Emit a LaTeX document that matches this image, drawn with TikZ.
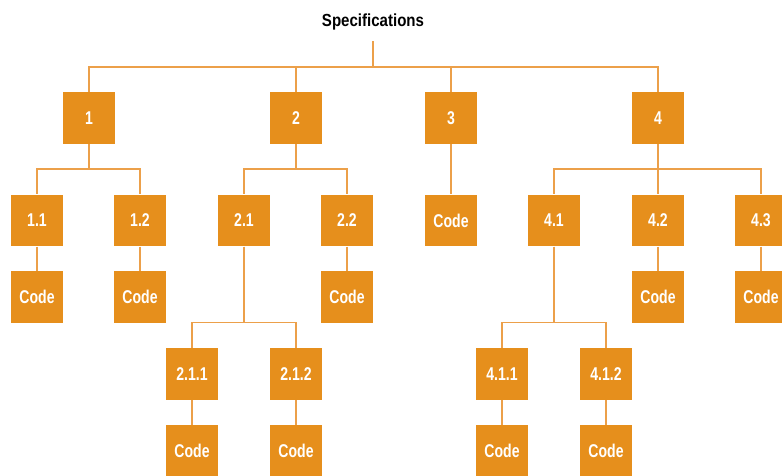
\documentclass[tikz,border=0pt]{standalone}
\usepackage{fontspec}
\newfontfamily\headfont{Liberation Sans}[FakeStretch=0.86]
\newfontfamily\boxfont{Liberation Sans}[FakeStretch=0.76]
\definecolor{boxorange}{HTML}{E68F1C}
\definecolor{lineorange}{HTML}{ECA04A}
\tikzset{
  module/.style={draw=none, fill=boxorange, minimum size=51.7pt, inner sep=0pt,
    text=white, font=\boxfont\bfseries\fontsize{18.5}{21}\selectfont},
  link/.style={draw=lineorange, line width=1.5pt},
  title/.style={font=\headfont\bfseries\fontsize{17.5}{20}\selectfont, inner sep=0pt}
}
\begin{document}
\begin{tikzpicture}[x=1pt, y=-1pt]
\useasboundingbox (0,0) rectangle (782,475);

% heading
\node[title, anchor=base] (spec) at (373,26.7) {Specifications};
\coordinate (root) at ([yshift=-14.3pt]spec.base);

% first level
\node[module] (n1) at (89,118) {1};
\node[module] (n2) at (296,118) {2};
\node[module] (n3) at (451,118) {3};
\node[module] (n4) at (658,118) {4};

% second level
\node[module] (n11) at (37,220.5) {1.1};
\node[module] (n12) at (140,220.5) {1.2};
\node[module] (n21) at (244,220.5) {2.1};
\node[module] (n22) at (347,220.5) {2.2};
\node[module] (c3)  at (451,220.5) {Code};
\node[module] (n41) at (554,220.5) {4.1};
\node[module] (n42) at (658,220.5) {4.2};
\node[module] (n43) at (761,220.5) {4.3};

% code under second level
\node[module] (c11) at (37,297) {Code};
\node[module] (c12) at (140,297) {Code};
\node[module] (c22) at (347,297) {Code};
\node[module] (c42) at (658,297) {Code};
\node[module] (c43) at (761,297) {Code};

% third level
\node[module] (n211) at (192,374) {2.1.1};
\node[module] (n212) at (296,374) {2.1.2};
\node[module] (n411) at (502,374) {4.1.1};
\node[module] (n412) at (606,374) {4.1.2};

% code under third level
\node[module] (c211) at (192,451) {Code};
\node[module] (c212) at (296,451) {Code};
\node[module] (c411) at (502,451) {Code};
\node[module] (c412) at (606,451) {Code};

% branching connectors: down, across the bus, down into the child
\foreach \p/\c in {root/n1, root/n2, root/n3, root/n4}
  \draw[link] (\p) |- ([yshift=25pt]\c.north) -- (\c.north);
\foreach \p/\c in {n1/n11, n1/n12, n2/n21, n2/n22, n4/n41, n4/n42, n4/n43,
                   n21/n211, n21/n212, n41/n411, n41/n412}
  \draw[link] (\p.south) |- ([yshift=25.7pt]\c.north) -- (\c.north);

% single-child connectors
\foreach \p/\c in {n3/c3, n11/c11, n12/c12, n22/c22, n42/c42, n43/c43,
                   n211/c211, n212/c212, n411/c411, n412/c412}
  \draw[link] (\p.south) -- (\c.north);
\end{tikzpicture}
\end{document}
